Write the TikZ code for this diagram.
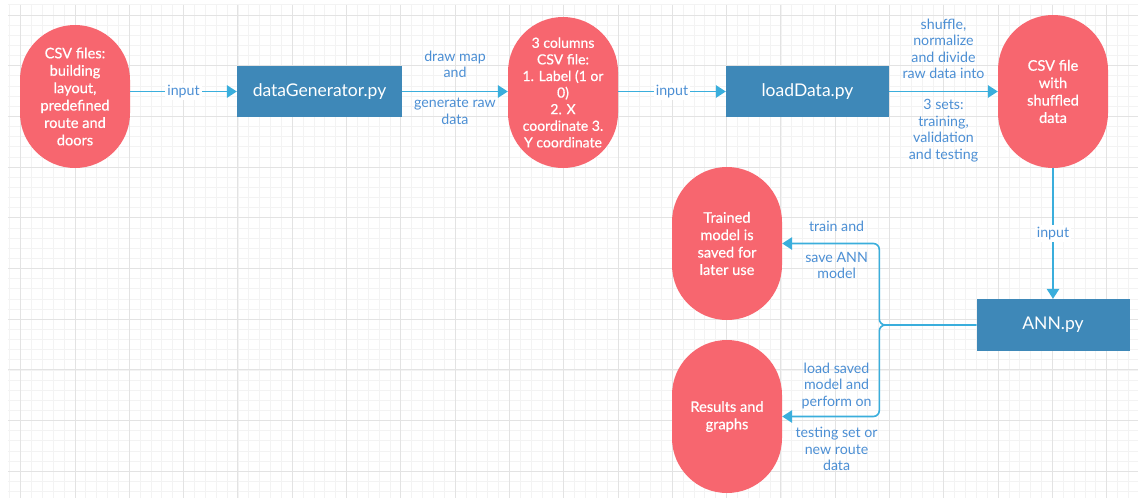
\documentclass[tikz,border=0pt]{standalone}
\usepackage{fontspec}
\setmainfont{Lato}
\newfontfamily\pilltext[FakeBold=0.5]{Lato}
\usetikzlibrary{arrows.meta,calc}
\definecolor{pillred}{HTML}{F7666F}
\definecolor{boxblue}{HTML}{3E88B8}
\definecolor{linkblue}{HTML}{3AAEDC}
\definecolor{labelblue}{HTML}{4C8FD4}
\definecolor{gridminor}{HTML}{F3F3F3}
\definecolor{gridmajor}{HTML}{E3E3E3}
\begin{document}
\begin{tikzpicture}[x=1pt,y=-1pt,
  pill/.style={fill=pillred, rounded corners=55pt, minimum width=110pt, inner sep=0pt,
    text=white, align=center, font=\pilltext\fontsize{14.6}{17.4}\selectfont},
  pybox/.style={fill=boxblue, inner sep=0pt, text=white, font=\fontsize{17.5}{21}\selectfont},
  link/.style={draw=linkblue, line width=1.6pt, -{Triangle[length=10pt,width=12.5pt]}},
  lbl/.style={text=labelblue, align=center, font=\fontsize{14.2}{16.5}\selectfont, inner sep=2pt},
  cut/.style={lbl, fill=white}]
\useasboundingbox (0,0) rectangle (1138,498);
\fill[white] (0,0) rectangle (1138,498);

% background grid
\foreach \i in {0,...,103}
  \draw[gridminor, line width=0.8pt] ({9.84+10.86*\i},5) -- ({9.84+10.86*\i},498);
\foreach \j in {0,...,48}
  \draw[gridminor, line width=0.8pt] (8,{4.86+10.14*\j}) -- (1138,{4.86+10.14*\j});
\foreach \i in {0,...,20}
  \draw[gridmajor, line width=1pt] ({20.7+54.3*\i},5) -- ({20.7+54.3*\i},498);
\foreach \j in {0,...,9}
  \draw[gridmajor, line width=1pt] (8,{15+50.7*\j}) -- (1138,{15+50.7*\j});

% nodes
\node[pill, minimum height=143pt] (csv) at (75,96.5)
  {CSV files:\\building\\layout,\\predefined\\route and\\doors};
\node[pybox, minimum width=165pt, minimum height=51pt] (gen) at (319.5,91.5) {dataGenerator.py};
\node[pill, minimum height=151pt, font=\pilltext\fontsize{14}{16.6}\selectfont] (cols) at (563,92.5)
  {3 columns\\CSV file:\\1. Label (1 or\\0)\\2. X\\coordinate 3.\\Y coordinate};
\node[pybox, minimum width=163pt, minimum height=51pt] (load) at (807.5,91.5) {loadData.py};
\node[pill, minimum height=153pt] (shuf) at (1053,91.5) {CSV file\\with\\shuffled\\data};
\node[pybox, minimum width=153pt, minimum height=52pt] (ann) at (1053,325) {ANN.py};
\node[pill, minimum height=153pt] (trained) at (727,243.5)
  {Trained\\model is\\saved for\\later use};
\node[pill, minimum height=153pt] (results) at (727,416.5) {Results and\\graphs};

% connectors
\draw[link] (csv.east |- gen.west) -- node[cut] (in1) {input} (gen.west);
\draw[link] (gen.east) -- node[lbl, above=11pt] (gen1) {draw map\\and}
  node[lbl, below=4pt] (gen2) {generate raw\\data} (cols.west |- gen.east);
\draw[link] (cols.east |- load.west) -- node[cut] (in2) {input} (load.west);
\draw[link] (load.east) -- node[lbl, above=10pt] (sh1) {shuffle,\\normalize\\and divide\\raw data into}
  node[lbl, below=5pt] (sh2) {3 sets:\\training,\\validation\\and testing} (shuf.west |- load.east);
\draw[link] (shuf.south) -- node[cut] (in3) {input} (ann.north);

\coordinate (split) at ($(ann.west)+(-97,0)$);
\draw[link, rounded corners=6pt] (ann.west) -- (split) |-
  node[lbl, above=9pt, pos=0.72] (tr1) {train and}
  node[lbl, below=6pt, pos=0.72] (tr2) {save ANN\\model} (trained.east);
\draw[link, rounded corners=6pt] (ann.west) -- (split) |-
  node[lbl, above=5pt, pos=0.72] (rs1) {load saved\\model and\\perform on}
  node[lbl, below=8pt, pos=0.72] (rs2) {testing set or\\new route\\data} (results.east);
\end{tikzpicture}
\end{document}
